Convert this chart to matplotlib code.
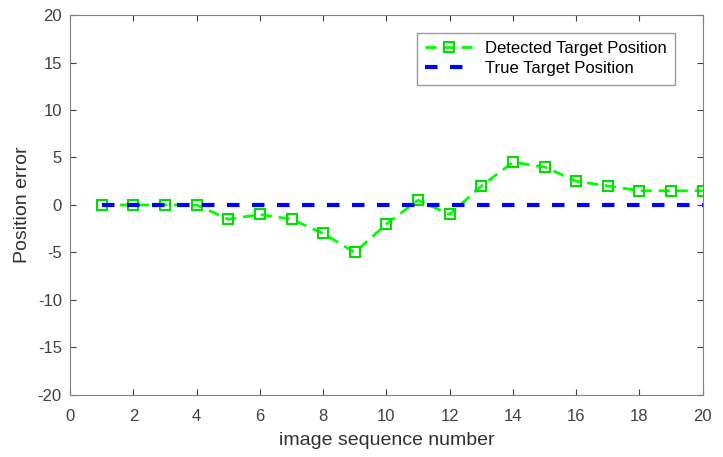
import matplotlib
matplotlib.use('Agg')
import matplotlib.pyplot as plt
import numpy as np

plt.rcParams['font.family'] = ['Liberation Sans', 'DejaVu Sans']
plt.rcParams['axes.unicode_minus'] = False

# data
seq = np.arange(1, 21)
detected = [0, 0, 0, 0, -1.5, -1, -1.5, -3, -5, -2,
            0.5, -1, 2, 4.5, 4, 2.5, 2, 1.5, 1.5, 1.5]
true_pos = [0] * 20

fig = plt.figure(figsize=(7.23, 4.57), dpi=100)
ax = fig.add_axes([0.097, 0.136, 0.875, 0.831])

ax.plot(seq, detected, '--s', color='#00ff00', lw=2, ms=7, mfc='none',
        mec='#00e000', mew=1.5, dashes=(4, 2.5), label='Detected Target Position')
ax.plot(seq, true_pos, '--', color='#0000ff', lw=3, dashes=(3, 3),
        label='True Target Position')

ax.set_xlim(0, 20)
ax.set_ylim(-20, 20)
ax.set_xticks(np.arange(0, 21, 2))
ax.set_yticks(np.arange(-20, 21, 5))
ax.tick_params(direction='in', top=True, right=True, labelsize=12,
               colors='#404040', length=4)
ax.tick_params(axis='y', pad=6)
ax.tick_params(axis='x', pad=10)
for s in ax.spines.values():
    s.set_color('#808080')
ax.set_xlabel('image sequence number', fontsize=14, color='#303030', labelpad=6)
ax.set_ylabel('Position error', fontsize=14, color='#303030', labelpad=5)

leg = ax.legend(loc='upper right', bbox_to_anchor=(0.97, 0.975), fontsize=12,
                frameon=True, fancybox=False, edgecolor='#808080',
                handlelength=2.8, borderpad=0.5, labelspacing=0.3)
leg.get_frame().set_linewidth(1)

fig.savefig('out.png', dpi=100)
